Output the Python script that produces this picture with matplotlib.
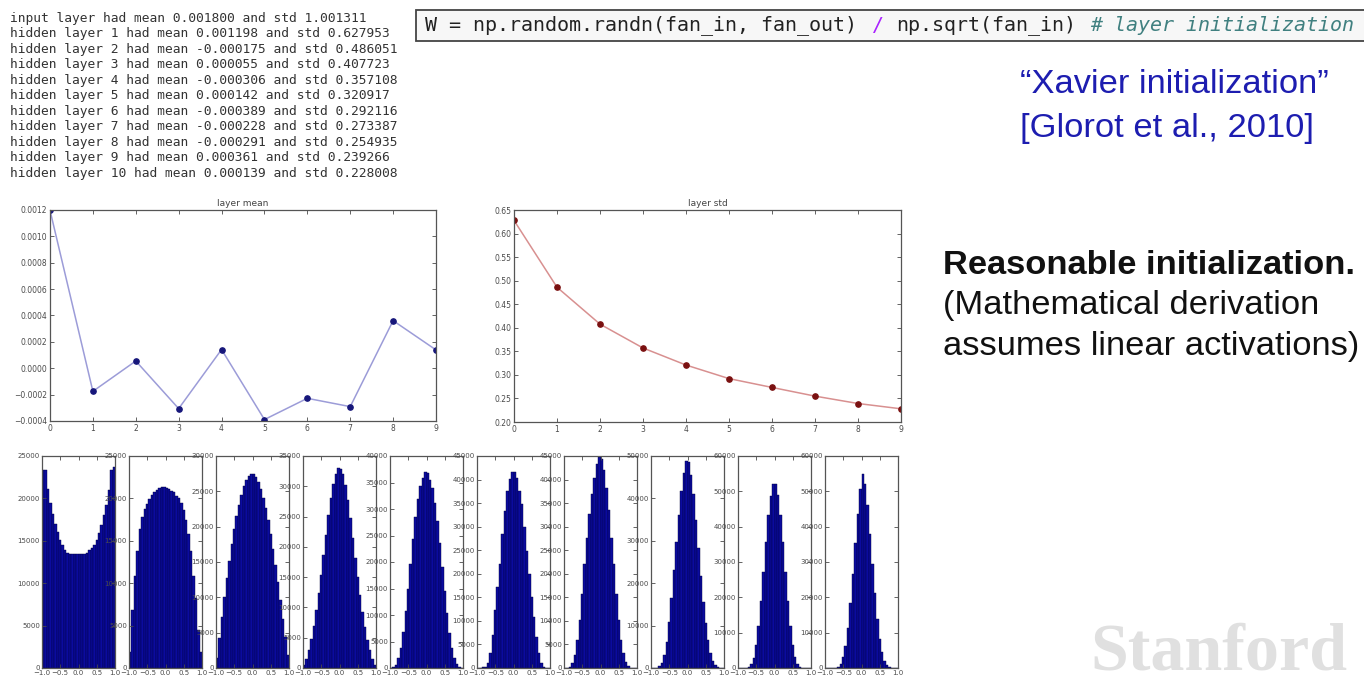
import numpy as np
import matplotlib
matplotlib.use('Agg')
import matplotlib.pyplot as plt
from matplotlib.patches import Rectangle
from matplotlib.ticker import FuncFormatter

# console output printed above the plots
console_lines = [
    "input layer had mean 0.001800 and std 1.001311",
    "hidden layer 1 had mean 0.001198 and std 0.627953",
    "hidden layer 2 had mean -0.000175 and std 0.486051",
    "hidden layer 3 had mean 0.000055 and std 0.407723",
    "hidden layer 4 had mean -0.000306 and std 0.357108",
    "hidden layer 5 had mean 0.000142 and std 0.320917",
    "hidden layer 6 had mean -0.000389 and std 0.292116",
    "hidden layer 7 had mean -0.000228 and std 0.273387",
    "hidden layer 8 had mean -0.000291 and std 0.254935",
    "hidden layer 9 had mean 0.000361 and std 0.239266",
    "hidden layer 10 had mean 0.000139 and std 0.228008",
]

# per layer statistics
layers = [0, 1, 2, 3, 4, 5, 6, 7, 8, 9]
layer_means = [0.001198, -0.000175, 0.000055, -0.000306, 0.000142,
               -0.000389, -0.000228, -0.000291, 0.000361, 0.000139]
layer_stds = [0.627953, 0.486051, 0.407723, 0.357108, 0.320917,
              0.292116, 0.273387, 0.254935, 0.239266, 0.228008]

# histogram counts, 30 bins over (-1, 1)
h1 = [23400, 23300, 21100, 19400, 18200, 17000, 16000, 15100, 14500, 13900,
      13600, 13500, 13400, 13400, 13400, 13500, 13400, 13500, 13600, 13900,
      14100, 14500, 15100, 15900, 16900, 18000, 19200, 21000, 23400, 23700]
h2 = [1900, 6800, 10900, 13800, 16400, 17800, 18700, 19300, 19900, 20400,
      20800, 21000, 21200, 21300, 21300, 21200, 21100, 20900, 20700, 20300,
      20000, 19400, 18600, 17400, 15800, 13800, 10900, 8200, 4500, 1900]
h3 = [1400, 4200, 7200, 10000, 12700, 15200, 17500, 19600, 21500, 23100,
      24500, 25700, 26600, 27200, 27500, 27400, 27000, 26300, 25300, 24100,
      22600, 20900, 19000, 16900, 14600, 12200, 9600, 7000, 4400, 1800]
h4 = [500, 1500, 3000, 4800, 7000, 9500, 12300, 15400, 18700, 22000,
      25200, 28000, 30400, 32100, 33000, 32900, 32000, 30200, 27700, 24700,
      21500, 18200, 15000, 12000, 9200, 6700, 4600, 2900, 1500, 500]
h5 = [50, 200, 600, 1900, 3700, 6800, 10700, 15000, 19600, 24400,
      28400, 31900, 34400, 35900, 37000, 36800, 35500, 33900, 31200, 27800,
      23600, 19000, 14500, 10300, 6600, 3800, 1900, 700, 200, 50]
h6 = [0, 30, 150, 280, 990, 3100, 7000, 12300, 17200, 22100,
      28500, 33400, 37600, 40100, 41700, 41700, 40400, 37600, 34800, 29900,
      24900, 20000, 15100, 10800, 6600, 3100, 1000, 300, 80, 0]
h7 = [0, 60, 300, 1000, 2700, 5900, 10100, 15800, 22100, 27700,
      32700, 36900, 40300, 43200, 44800, 44400, 42000, 38300, 33600, 27700,
      22100, 15800, 10100, 5900, 3100, 1300, 400, 100, 20, 0]
h8 = [0, 20, 100, 400, 1100, 3000, 6200, 10800, 16500, 23000,
      29800, 36200, 41800, 46000, 48800, 48600, 45600, 41000, 35000, 28300,
      21700, 15600, 10500, 6500, 3500, 1600, 600, 150, 30, 0]
h9 = [0, 0, 10, 60, 300, 1000, 2900, 6400, 11800, 19000,
      27300, 35700, 43200, 48700, 52000, 52200, 48900, 43200, 35600, 27200,
      19000, 11800, 6400, 3000, 1100, 300, 60, 10, 0, 0]
h10 = [0, 0, 0, 20, 100, 400, 1200, 3000, 6300, 11400,
       18400, 26600, 35400, 43700, 50600, 54800, 52000, 46000, 38000, 29500,
       21200, 14000, 8300, 4400, 2000, 800, 250, 60, 10, 0]
hist_counts = [h1, h2, h3, h4, h5, h6, h7, h8, h9, h10]
hist_ymax = [25000, 25000, 30000, 35000, 40000, 45000, 45000, 50000, 60000, 60000]
hist_ystep = [5000, 5000, 5000, 5000, 5000, 5000, 5000, 10000, 10000, 10000]

W, H = 1364, 684
fig = plt.figure(figsize=(W / 100, H / 100), dpi=100)
fig.patch.set_facecolor('white')


def add_ax(left, top, right, bottom):
    # pixel box -> figure fraction
    return fig.add_axes([left / W, 1 - bottom / H, (right - left) / W, (bottom - top) / H])


def style(ax, fs):
    ax.tick_params(direction='in', top=True, right=True, labelsize=fs,
                   colors='#4a4a4a', length=3, width=0.6, pad=2)
    for s in ax.spines.values():
        s.set_color('#555555')
        s.set_linewidth(0.9)


def minus(v, fmt):
    if abs(v) < 1e-12:
        v = 0.0
    return fmt.format(v).replace('-', '\u2212')


# layer mean
ax = add_ax(50, 210, 436, 421)
ax.plot(layers, layer_means, '-', color='#9c9cd8', lw=1.1)
ax.plot(layers, layer_means, 'o', color='#16167a', ms=3.8)
ax.set_xlim(0, 9)
ax.set_ylim(-0.0004, 0.0012)
ax.set_xticks(layers)
ax.set_yticks([-0.0004, -0.0002, 0.0, 0.0002, 0.0004, 0.0006, 0.0008, 0.0010, 0.0012])
ax.yaxis.set_major_formatter(FuncFormatter(lambda v, p: minus(v, '{:.4f}')))
style(ax, 5.5)
ax.set_title('layer mean', fontsize=6.5, color='#444444', pad=3)

# layer std
ax = add_ax(514, 210, 901, 422)
ax.plot(layers, layer_stds, '-', color='#d89090', lw=1.1)
ax.plot(layers, layer_stds, 'o', color='#7a1010', ms=3.8)
ax.set_xlim(0, 9)
ax.set_ylim(0.20, 0.65)
ax.set_xticks(layers)
ax.set_yticks([0.20, 0.25, 0.30, 0.35, 0.40, 0.45, 0.50, 0.55, 0.60, 0.65])
ax.yaxis.set_major_formatter(FuncFormatter(lambda v, p: minus(v, '{:.2f}')))
style(ax, 5.5)
ax.set_title('layer std', fontsize=6.5, color='#444444', pad=3)

# activation histograms
bin_edges = np.linspace(-1, 1, 31)
for i, counts in enumerate(hist_counts):
    left = 42 + 87 * i
    ax = add_ax(left, 456, left + 73, 668)
    ax.bar(bin_edges[:-1], counts, width=np.diff(bin_edges), align='edge',
           color='#0b0b9e', edgecolor='#00003c', linewidth=0.3)
    ax.set_xlim(-1, 1)
    ax.set_ylim(0, hist_ymax[i])
    ax.set_xticks([-1.0, -0.5, 0.0, 0.5, 1.0])
    ax.xaxis.set_major_formatter(FuncFormatter(lambda v, p: minus(v, '{:.1f}')))
    ax.set_yticks(np.arange(0, hist_ymax[i] + 1, hist_ystep[i]))
    style(ax, 5)
    ax.tick_params(pad=1.5)

# console text
for i, line in enumerate(console_lines):
    fig.text(10 / W, 1 - (18.3 + 15.5 * i) / H, line, family='DejaVu Sans Mono',
             fontsize=9.25, color='#333333', va='center', ha='left')

# code box
fig.patches.append(Rectangle((416 / W, 1 - 41 / H), 1000 / W, 31 / H, transform=fig.transFigure,
                             facecolor='#f7f7f7', edgecolor='#444444', lw=1.3))
code_parts = [
    ("W = np.random.randn(fan_in, fan_out)", '#222222', 'normal'),
    ("/", '#aa22ff', 'normal'),
    ("np.sqrt(fan_in)", '#222222', 'normal'),
    ("# layer initialization", '#408080', 'italic'),
]
code_fs = 14.45
char_w = 0.6021 * code_fs * 100 / 72
x = 425
for txt, col, sty in code_parts:
    fig.text(x / W, 1 - 25.5 / H, txt, family='DejaVu Sans Mono', fontsize=code_fs,
             color=col, style=sty, va='center', ha='left')
    x += (len(txt) + 1) * char_w

# right hand text
blue = '#1d1db0'
fig.text(1020 / W, 1 - 93 / H, '\u201cXavier initialization\u201d', family='Liberation Sans',
         fontsize=24.8, color=blue, va='baseline')
fig.text(1020 / W, 1 - 137 / H, '[Glorot et al., 2010]', family='Liberation Sans',
         fontsize=24.8, color=blue, va='baseline')
fig.text(943 / W, 1 - 274 / H, 'Reasonable initialization.', family='Liberation Sans',
         fontsize=24.8, weight='bold', color='#111111', va='baseline')
fig.text(943 / W, 1 - 314 / H, '(Mathematical derivation', family='Liberation Sans',
         fontsize=24.8, color='#111111', va='baseline')
fig.text(943 / W, 1 - 355 / H, 'assumes linear activations)', family='Liberation Sans',
         fontsize=24.8, color='#111111', va='baseline')

# watermark
fig.text(1090 / W, 1 - 670 / H, 'Stanford', family='Liberation Serif', fontsize=49,
         weight='bold', color='#e0e0e0', va='baseline')

fig.savefig('out.png', dpi=100)
